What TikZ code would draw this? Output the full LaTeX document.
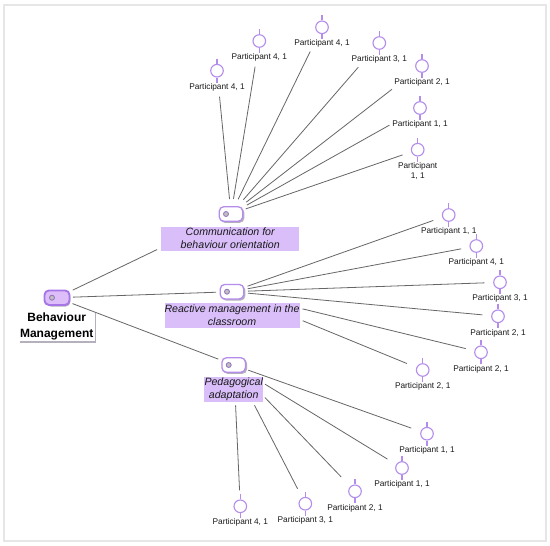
\documentclass[tikz,border=0pt]{standalone}
\usepackage{fontspec}
\setmainfont{Liberation Sans}
\definecolor{lilac}{HTML}{B48CEB}
\definecolor{lilacfill}{HTML}{D9BEF9}
\definecolor{rootfill}{HTML}{DDBEF8}
\definecolor{rootline}{HTML}{A675E8}
\definecolor{linegray}{HTML}{666666}
\definecolor{framegray}{HTML}{E6E6E6}
\definecolor{shadegray}{HTML}{B5B0BC}
\tikzset{
  framing/.style={draw=framegray,line width=1.8pt},
  leaficon/.style={circle,draw=lilac,fill=white,line width=1.1pt,minimum size=12.6pt,inner sep=0pt},
  leafstick/.style={draw=lilac,line width=1.1pt},
  leaflabel/.style={font=\fontsize{8.3}{10}\selectfont,align=center,inner sep=0pt,text=black!90},
  conn/.style={draw=linegray,line width=0.8pt},
  topicicon/.style={rectangle,rounded corners=4.5pt,draw=lilac,fill=white,line width=1.3pt,minimum width=23.5pt,minimum height=14.5pt,inner sep=0pt},
  rooticon/.style={topicicon,fill=rootfill,draw=rootline,line width=1.9pt,minimum width=25pt},
  iconshadow/.style={rectangle,rounded corners=4.5pt,fill=shadegray,minimum width=24pt,minimum height=15pt,inner sep=0pt},
  icondot/.style={circle,draw=lilac!80!black,fill=black!25,line width=0.8pt,minimum size=5pt,inner sep=0pt},
  topiclabel/.style={fill=lilacfill,font=\fontsize{10.6}{13}\selectfont\itshape,align=center,inner sep=0pt,text=black!90},
  rootlabel/.style={font=\fontsize{12}{15.5}\selectfont\bfseries,align=center,inner sep=0pt,text=black},
  rootshade/.style={draw=shadegray,line width=1.2pt}
}
\newcommand{\leafnode}[6]{%
  \node[leaficon] (#1) at (#2,#3) {};
  \draw[leafstick] (#1.north) -- ++(0,-5);
  \draw[leafstick] (#1.south) -- ++(0,5);
  \node[leaflabel] (#1t) at (#4,#5) {#6};
}
\newcommand{\topicnode}[4]{%
  \node[iconshadow] at (#3+1.3,#4+1.3) {};
  \node[#2] (#1) at (#3,#4) {};
  \node[icondot] (#1d) at (#3-5,#4) {};
}
\newcommand{\linknodes}[4]{%
  \draw[conn,shorten <=#3pt,shorten >=#4pt] (#1.center) -- (#2.center);
}
\begin{document}
\begin{tikzpicture}[x=1pt,y=-1pt]
\useasboundingbox (0,0) rectangle (550,546);
\fill[white] (0,0) rectangle (550,546);
\draw[framing] (4,541) -- (4,5) -- (546,5) -- (546,541) -- cycle;

% root and topics
\topicnode{root}{rooticon}{57}{297.7}
\draw[rootshade] (95.7,313) -- (95.7,342) -- (20,342);
\node[rootlabel] (roott) at (56.7,326.5) {Behaviour\\Management};

\topicnode{tA}{topicicon}{231}{214}
\node[topiclabel,minimum width=138.5pt,minimum height=24pt] (tAt) at (230.2,238.7) {Communication for\\behaviour orientation};
\topicnode{tB}{topicicon}{232}{291.7}
\node[topiclabel,minimum width=135pt,minimum height=24.6pt] (tBt) at (232,315.7) {Reactive management in the\\classroom};
\topicnode{tC}{topicicon}{233.7}{365}
\node[topiclabel,minimum width=59pt,minimum height=24.4pt] (tCt) at (233.7,389.5) {Pedagogical\\adaptation};

% leaves
\leafnode{a}{217}{70.7}{217}{87.3}{Participant 4, 1}
\leafnode{b}{259.3}{41}{259.3}{57.3}{Participant 4, 1}
\leafnode{c}{322}{27.3}{322}{43.7}{Participant 4, 1}
\leafnode{d}{379.3}{43}{379.3}{59.7}{Participant 3, 1}
\leafnode{e}{422}{66}{422}{82.7}{Participant 2, 1}
\leafnode{f}{420}{108}{420}{124.7}{Participant 1, 1}
\leafnode{g}{417.7}{149.7}{417.7}{171}{Participant\\1, 1}

\leafnode{m}{448.7}{215}{448.7}{231.7}{Participant 1, 1}
\leafnode{n}{476.3}{246}{476.3}{262.3}{Participant 4, 1}
\leafnode{o}{500}{282.3}{500}{298.7}{Participant 3, 1}
\leafnode{p}{498}{316.3}{498}{333}{Participant 2, 1}
\leafnode{q}{481}{352.3}{481}{369}{Participant 2, 1}
\leafnode{r}{422.7}{370}{422.7}{386.7}{Participant 2, 1}

\leafnode{u}{427}{433.7}{427}{450.3}{Participant 1, 1}
\leafnode{v}{402}{468}{402}{484.7}{Participant 1, 1}
\leafnode{w}{355}{491.3}{355}{508}{Participant 2, 1}
\leafnode{x}{305.3}{503.7}{305.3}{520.3}{Participant 3, 1}
\leafnode{z}{240.3}{506.3}{240.3}{522.7}{Participant 4, 1}

% connectors
\linknodes{root}{tA}{17.5}{82}
\linknodes{root}{tB}{16}{16}
\linknodes{root}{tC}{16.6}{16.5}

\linknodes{tA}{a}{15}{26}
\linknodes{tA}{b}{15.4}{26}
\linknodes{tA}{c}{16.4}{27}
\linknodes{tA}{d}{18.8}{32}
\linknodes{tA}{e}{19.3}{38}
\linknodes{tA}{f}{18.2}{35}
\linknodes{tA}{g}{15.6}{16}

\linknodes{tB}{m}{16.5}{16.4}
\linknodes{tB}{n}{16}{15.5}
\linknodes{tB}{o}{16}{15.7}
\linknodes{tB}{p}{16}{15.7}
\linknodes{tB}{q}{72.6}{15.7}
\linknodes{tB}{r}{76.4}{17}

\linknodes{tC}{u}{15.5}{16.7}
\linknodes{tC}{v}{36.7}{17}
\linknodes{tC}{w}{45}{20}
\linknodes{tC}{x}{45.4}{16.8}
\linknodes{tC}{z}{40.5}{16}
\end{tikzpicture}
\end{document}
